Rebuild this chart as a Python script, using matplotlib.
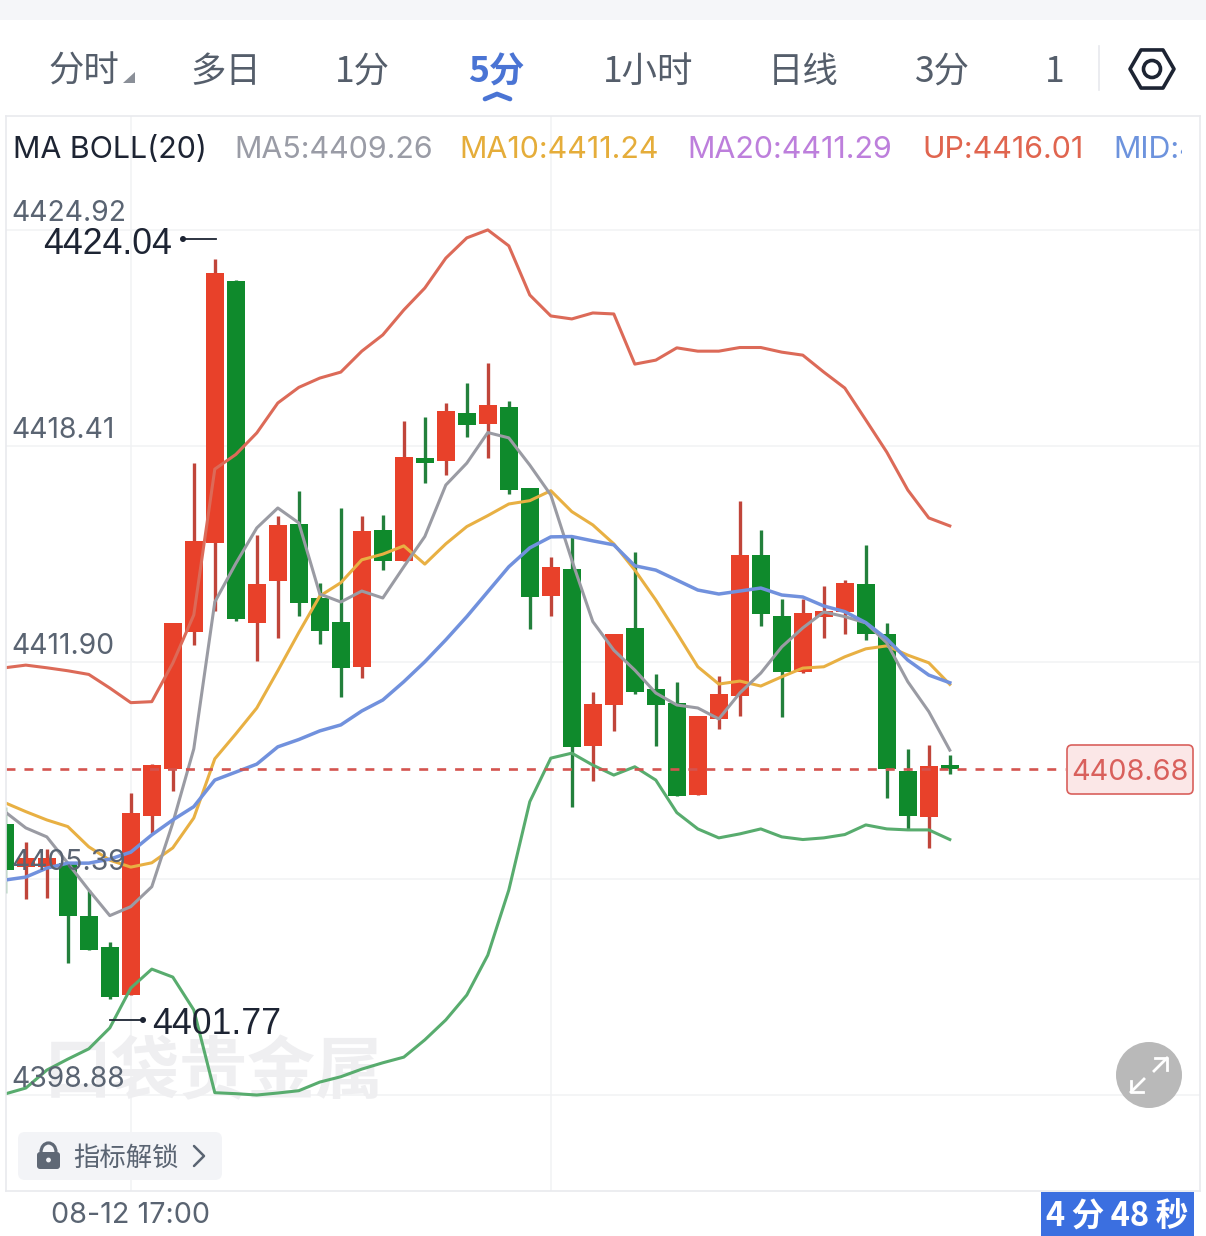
import numpy as np
import matplotlib
matplotlib.use("Agg")
import matplotlib.pyplot as plt
from matplotlib.patches import Rectangle, FancyBboxPatch, Polygon, RegularPolygon, Circle, Arc
from matplotlib.transforms import ScaledTranslation

CJK = ['Noto Sans CJK SC', 'DejaVu Sans']
LAT = ['Inter', 'DejaVu Sans']
ARI = ['Liberation Sans', 'DejaVu Sans']

# ---------- data (prices) ----------
opens = [4407.04,4405.74,4405.74,4405.86,4404.27,4403.34,4401.89,4407.28,4408.68,4412.83,4415.51,4423.37,4413.09,4414.34,4416.07,4413.84,
         4413.12,4411.76,4415.89,4414.95,4418.06,4417.96,4419.42,4419.08,4419.59,4417.15,4413.91,4414.71,4409.39,4410.62,4412.94,4411.10,
         4410.68,4407.91,4410.20,4410.89,4415.13,4413.30,4411.62,4413.28,4413.42,4414.26,4412.76,4408.63,4407.25,4408.80]
closes = [4405.65,4406.01,4406.01,4404.27,4403.24,4401.83,4407.37,4408.81,4413.09,4415.57,4423.63,4413.21,4414.26,4416.04,4413.69,4412.85,
          4411.73,4415.86,4414.94,4418.08,4417.91,4419.48,4419.06,4419.65,4417.09,4413.87,4414.78,4409.36,4410.65,4412.76,4411.01,4410.62,
          4407.88,4410.30,4410.95,4415.13,4413.36,4411.61,4413.39,4413.46,4414.29,4412.76,4408.69,4407.28,4408.79,4408.68]
highs = [4407.55,4406.50,4406.29,4405.89,4405.05,4403.49,4407.97,4408.84,4413.09,4417.90,4424.04,4423.41,4415.74,4416.32,4417.06,4414.29,
         4416.55,4416.31,4416.35,4419.18,4419.30,4419.72,4420.31,4420.91,4419.77,4417.15,4415.07,4415.69,4411.02,4412.76,4415.22,4411.55,
         4411.31,4410.30,4411.50,4416.77,4415.89,4413.81,4413.81,4414.20,4414.38,4415.44,4413.10,4409.30,4409.42,4409.11]
lows = [4404.96,4404.78,4404.81,4402.85,4403.24,4401.77,4401.89,4406.77,4408.03,4412.43,4413.45,4413.15,4411.94,4412.64,4413.30,4412.46,
        4410.86,4411.43,4414.68,4414.95,4417.31,4417.55,4418.70,4418.05,4416.97,4412.91,4413.31,4407.55,4408.34,4409.85,4410.95,4409.39,
        4407.88,4407.91,4409.90,4410.30,4413.00,4410.26,4411.59,4412.64,4412.76,4412.58,4407.82,4406.86,4406.32,4408.54]

boll_up = [4411.74,4411.82,4411.74,4411.65,4411.54,4411.13,4410.69,4410.72,4411.88,4413.33,4417.72,4418.16,4418.81,4419.71,4420.18,4420.46,
           4420.64,4421.27,4421.76,4422.51,4423.17,4424.07,4424.68,4424.92,4424.44,4422.96,4422.33,4422.24,4422.42,4422.39,4420.88,4421.00,
           4421.37,4421.27,4421.27,4421.38,4421.38,4421.24,4421.15,4420.64,4420.16,4419.20,4418.23,4417.09,4416.25,4416.01]
boll_mid = [4405.35,4405.44,4405.71,4405.86,4405.86,4405.98,4406.19,4406.71,4407.16,4407.56,4408.36,4408.60,4408.84,4409.36,4409.58,4409.84,
            4410.02,4410.44,4410.77,4411.32,4411.92,4412.58,4413.28,4414.03,4414.78,4415.35,4415.68,4415.69,4415.56,4415.44,4414.81,4414.68,
            4414.38,4414.08,4413.96,4414.05,4414.14,4413.93,4413.87,4413.60,4413.43,4413.10,4412.61,4411.97,4411.52,4411.29]
boll_low = [4398.91,4399.09,4399.63,4399.96,4400.27,4400.90,4402.10,4402.67,4402.43,4401.44,4398.95,4398.92,4398.88,4398.94,4399.01,4399.27,
            4399.43,4399.66,4399.85,4400.02,4400.54,4401.14,4401.89,4403.09,4405.05,4407.71,4409.02,4409.17,4408.81,4408.51,4408.76,4408.36,
            4407.38,4406.89,4406.62,4406.74,4406.89,4406.65,4406.57,4406.62,4406.72,4407.01,4406.89,4406.86,4406.86,4406.57]
ma5 = [4407.41,4406.92,4406.65,4405.86,4405.05,4404.28,4404.55,4405.15,4407.07,4409.30,4413.72,4414.88,4415.95,4416.55,4416.10,4413.96,
       4413.72,4414.05,4413.84,4414.78,4415.69,4417.24,4417.90,4418.82,4418.66,4417.84,4416.94,4414.98,4413.13,4412.27,4411.67,4410.98,
       4410.62,4410.53,4410.20,4410.98,4411.58,4412.37,4412.94,4413.42,4413.28,4413.09,4412.49,4411.32,4410.42,4409.26]
ma10 = [4407.68,4407.41,4407.16,4406.96,4406.35,4405.95,4405.74,4405.87,4406.32,4407.22,4409.00,4409.75,4410.53,4411.65,4412.80,4413.90,
        4414.30,4414.99,4415.16,4415.41,4414.86,4415.47,4415.99,4416.32,4416.67,4416.77,4417.07,4416.44,4416.04,4415.47,4414.68,4413.78,
        4412.79,4411.77,4411.25,4411.34,4411.19,4411.47,4411.73,4411.77,4412.07,4412.31,4412.40,4412.12,4411.89,4411.24]

price_ticks = [4424.92, 4418.41, 4411.90, 4405.39, 4398.88]
time_tick_idx = [6, 26]
time_tick_labels = ['08-12 17:00', '']
last_price = 4408.68
max_label, min_label = '4424.04', '4401.77'
tabs = ['分时', '多日', '1分', '5分', '1小时', '日线', '3分', '1']
legend_items = ['MA BOLL(20)', 'MA5:4409.26', 'MA10:4411.24', 'MA20:4411.29', 'UP:4416.01', 'MID:4411.29']

# ---------- colours ----------
RED, GREEN = '#e8412a', '#0f8a2c'
RED_W, GREEN_W = '#c0453a', '#23803c'
C_UP, C_MID, C_LOW, C_MA5, C_MA10 = '#dc6a58', '#7191dd', '#58ac6e', '#9a9ba3', '#e8b043'
TXT = '#5a6472'
DARK = '#1d2433'

# ---------- figure ----------
W, H = 1206, 1236
fig = plt.figure(figsize=(W/100, H/100), dpi=100, facecolor='white')

def axrect(l, t, r, b):
    return [l/W, 1-b/H, (r-l)/W, (b-t)/H]
ax = fig.add_axes(axrect(6, 116, 1200, 1191))
P0, PK = 4431.84, 0.0301
ax.set_ylim(P0-PK*1191, P0-PK*116)
X0, DX = 4.8, 21.0
ax.set_xlim((6-X0)/DX, (1200-X0)/DX)
for s in ax.spines.values():
    s.set_color('#e9eaee'); s.set_linewidth(1.2)
ax.set_axisbelow(False)

n = len(opens)
idx = np.arange(n)
ax.hlines(price_ticks, *ax.get_xlim(), color='#f1f2f4', lw=1.1, zorder=0)
ax.vlines(time_tick_idx, *ax.get_ylim(), color='#f1f2f4', lw=1.1, zorder=0)

for i in idx:
    up = closes[i] >= opens[i]
    ax.vlines(i, lows[i], highs[i], color=RED_W if up else GREEN_W, lw=2.4, zorder=1.5)
    lo, hi = min(opens[i], closes[i]), max(opens[i], closes[i])
    ax.bar(i, hi-lo, bottom=lo, width=18/DX, color=RED if up else GREEN, lw=0, zorder=1.6)

ax.plot(idx, boll_up, color=C_UP, lw=2.2, zorder=2, solid_joinstyle='round')
ax.plot(idx, boll_low, color=C_LOW, lw=2.2, zorder=2, solid_joinstyle='round')
ax.plot(idx, ma10, color=C_MA10, lw=2.2, zorder=2.05, solid_joinstyle='round')
ax.plot(idx, ma5, color=C_MA5, lw=2.2, zorder=2.1, solid_joinstyle='round')
ax.plot(idx, boll_mid, color=C_MID, lw=2.5, zorder=2.15, solid_joinstyle='round')
ax.plot([ax.get_xlim()[0], (1065-X0)/DX], [last_price]*2, color='#d4544f', lw=1.9,
        linestyle=(0, (3.4, 3.4)), zorder=2.3)

ax.set_yticks(price_ticks)
ax.set_yticklabels([f'{v:.2f}' for v in price_ticks], family=LAT, fontsize=20.4, color=TXT)
ax.set_xticks(time_tick_idx)
ax.set_xticklabels(time_tick_labels, family=LAT, fontsize=20.7, color=TXT)
ax.tick_params(length=0, pad=0)
off = ScaledTranslation(5/100, 16/100, fig.dpi_scale_trans)
for lab in ax.get_yticklabels():
    lab.set_ha('left'); lab.set_va('center')
    lab.set_transform(lab.get_transform() + off)
ax.tick_params(axis='x', pad=8)

# ---------- overlay in pixel coordinates ----------
ov = fig.add_axes([0, 0, 1, 1], zorder=5)
ov.set_xlim(0, W); ov.set_ylim(H, 0); ov.axis('off'); ov.patch.set_alpha(0)

ax.text(214, 1074, '口袋贵金属', transform=ov.transData, family=CJK, fontsize=49, fontweight='bold',
        color='#efeff1', ha='center', va='center', zorder=0.5, clip_on=False)

ov.add_patch(Rectangle((0, 0), W, 20, color='#f5f6f9', lw=0))

tab_x = [84, 226, 362, 496, 648, 803, 942, 1055]
for t, x in zip(tabs, tab_x):
    active = t == '5分'
    ov.text(x, 72, t, family=CJK, fontsize=25.5, ha='center', va='center',
            color='#4a74d4' if active else '#555e6b', fontweight='bold' if active else 'normal')
ov.add_patch(Polygon([(135, 72), (135, 83), (123, 83)], color='#8a8f98', lw=0))
ov.plot([485, 497, 510], [99, 94, 99], color='#4a74d4', lw=3.4, solid_capstyle='round', solid_joinstyle='round')
ov.plot([1099, 1099], [46, 90], color='#e8e9ed', lw=1.2)
ov.add_patch(RegularPolygon((1152, 69), 6, radius=22, orientation=np.pi/2, fill=False, ec=DARK, lw=2.6, joinstyle='round'))
ov.add_patch(Circle((1152, 69), 8.5, fill=False, ec=DARK, lw=2.6))

leg_x = [13, 234, 459, 687, 922, 1113]
leg_c = [DARK, '#9a9ca6', '#e5ad3a', '#bd7fdc', '#e0654f', '#6d93dd']
clip = Rectangle((0, 116), 1182, 60, transform=ov.transData)
for t, x, c in zip(legend_items, leg_x, leg_c):
    tx = ov.text(x, 150.5, t, family=LAT, fontsize=21.9, color=c, ha='left', va='center')
    tx.set_clip_on(True); tx.set_clip_path(clip)

ov.text(43, 244, max_label, family=ARI, fontsize=25.7, color=DARK, ha='left', va='center')
ov.plot([183, 216], [239, 239], color=DARK, lw=1.3)
ov.add_patch(Circle((183, 239), 3, color=DARK, lw=0))
ov.text(152, 1024, min_label, family=ARI, fontsize=25.7, color=DARK, ha='left', va='center')
ov.plot([110, 143], [1020, 1020], color=DARK, lw=1.3)
ov.add_patch(Circle((143, 1020), 3, color=DARK, lw=0))

ov.add_patch(FancyBboxPatch((1067, 745), 126, 49, boxstyle='round,pad=0,rounding_size=5',
                            fc='#fbe7e7', ec='#d9605c', lw=1.2))
ov.text(1130, 772, f'{last_price:.2f}', family=LAT, fontsize=20.8, color='#d9605c', ha='center', va='center')

ov.add_patch(FancyBboxPatch((18, 1132), 204, 48, boxstyle='round,pad=0,rounding_size=7', fc='#f3f4f7', ec='none'))
ov.add_patch(FancyBboxPatch((37, 1152), 23, 17, boxstyle='round,pad=0,rounding_size=3', fc='#5f6875', ec='none'))
ov.add_patch(Arc((48.5, 1152), 15, 18, theta1=180, theta2=360, color='#5f6875', lw=2.3))
ov.add_patch(Circle((48.5, 1160), 2.4, color='#f3f4f7', lw=0))
ov.text(126, 1158, '指标解锁', family=CJK, fontsize=19, color=TXT, ha='center', va='center')
ov.plot([194, 204, 194], [1146, 1156, 1166], color=TXT, lw=1.8, solid_capstyle='round', solid_joinstyle='round')

ov.add_patch(Circle((1149, 1075), 33, color='#b9b9b9', lw=0))
for pts in ([(1131, 1092), (1144, 1079)], [(1154, 1071), (1167, 1058)]):
    ov.plot(*zip(*pts), color='white', lw=2)
ov.plot([1131, 1131, 1143], [1081, 1092, 1092], color='white', lw=2)
ov.plot([1155, 1167, 1167], [1058, 1058, 1070], color='white', lw=2)

ov.add_patch(Rectangle((1041, 1192), 153, 44, color='#3b6fe0', lw=0))
ov.text(1117, 1216, '4\u2009分\u200948\u2009秒', family=CJK, fontsize=23.5, fontweight='bold', color='white', ha='center', va='center')

fig.savefig('out.png', dpi=100, facecolor='white')
